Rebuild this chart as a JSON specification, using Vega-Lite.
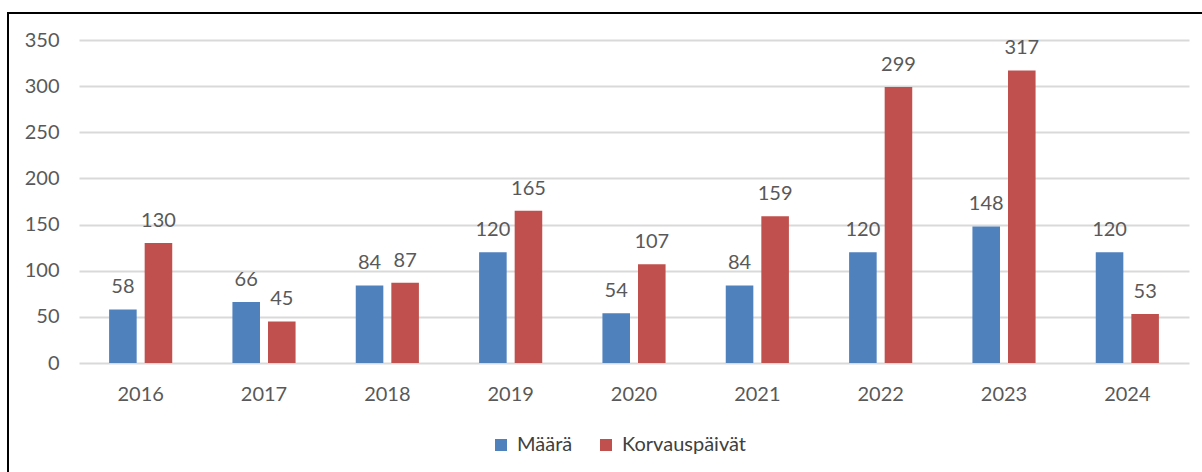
{
  "$schema": "https://vega.github.io/schema/vega-lite/v6.json",
  "width": 1196,
  "height": 461,
  "autosize": {"type": "none"},
  "padding": {"left": 8, "top": 13, "right": 0, "bottom": 0},
  "background": "white",
  "config": {
    "view": {"stroke": "#000000", "strokeWidth": 2},
    "font": "Lato"
  },
  "data": {
    "values": [
      {"year": "2016", "series": "Määrä", "value": 58},
      {"year": "2016", "series": "Korvauspäivät", "value": 130},
      {"year": "2017", "series": "Määrä", "value": 66},
      {"year": "2017", "series": "Korvauspäivät", "value": 45},
      {"year": "2018", "series": "Määrä", "value": 84},
      {"year": "2018", "series": "Korvauspäivät", "value": 87},
      {"year": "2019", "series": "Määrä", "value": 120},
      {"year": "2019", "series": "Korvauspäivät", "value": 165},
      {"year": "2020", "series": "Määrä", "value": 54},
      {"year": "2020", "series": "Korvauspäivät", "value": 107},
      {"year": "2021", "series": "Määrä", "value": 84},
      {"year": "2021", "series": "Korvauspäivät", "value": 159},
      {"year": "2022", "series": "Määrä", "value": 120},
      {"year": "2022", "series": "Korvauspäivät", "value": 299},
      {"year": "2023", "series": "Määrä", "value": 148},
      {"year": "2023", "series": "Korvauspäivät", "value": 317},
      {"year": "2024", "series": "Määrä", "value": 120},
      {"year": "2024", "series": "Korvauspäivät", "value": 53}
    ]
  },
  "encoding": {
    "x": {
      "field": "year",
      "type": "nominal",
      "scale": {"range": [71, 1181], "paddingInner": 0.488, "paddingOuter": 0.244},
      "axis": {
        "title": null,
        "orient": "bottom",
        "offset": -74,
        "domain": false,
        "ticks": false,
        "tickSize": 0,
        "grid": false,
        "labelAngle": 0,
        "labelPadding": 0,
        "labelBaseline": "alphabetic",
        "labelFont": "Lato",
        "labelFontSize": 20,
        "labelColor": "#595959"
      }
    },
    "xOffset": {
      "field": "series",
      "type": "nominal",
      "sort": ["Määrä", "Korvauspäivät"],
      "scale": {"paddingInner": 0.225, "paddingOuter": 0}
    },
    "y": {
      "field": "value",
      "type": "quantitative",
      "scale": {"domain": [0, 350], "range": [350, 27], "nice": false, "zero": true},
      "axis": {
        "title": null,
        "orient": "left",
        "offset": -51,
        "values": [0, 50, 100, 150, 200, 250, 300, 350],
        "domain": false,
        "ticks": false,
        "tickSize": 0,
        "labelPadding": 0,
        "labelFont": "Lato",
        "labelFontSize": 20,
        "labelColor": "#595959",
        "grid": true,
        "gridColor": "#D9D9D9",
        "gridWidth": 2
      }
    }
  },
  "layer": [
    {
      "mark": {"type": "bar"},
      "encoding": {
        "color": {
          "field": "series",
          "type": "nominal",
          "scale": {"domain": ["Määrä", "Korvauspäivät"], "range": ["#4F81BD", "#C0504D"]},
          "legend": {
            "title": null,
            "orient": "none",
            "direction": "horizontal",
            "legendX": 483,
            "legendY": 422,
            "padding": 0,
            "symbolType": "square",
            "symbolSize": 144,
            "symbolStrokeWidth": 0,
            "labelOffset": 6,
            "columnPadding": 23,
            "labelFont": "Lato",
            "labelFontSize": 20,
            "labelColor": "#404040"
          }
        }
      }
    },
    {
      "mark": {
        "type": "text",
        "align": "center",
        "baseline": "alphabetic",
        "dy": -16,
        "font": "Lato",
        "fontSize": 20,
        "color": "#595959"
      },
      "encoding": {
        "text": {"field": "value", "type": "quantitative"}
      }
    }
  ]
}
